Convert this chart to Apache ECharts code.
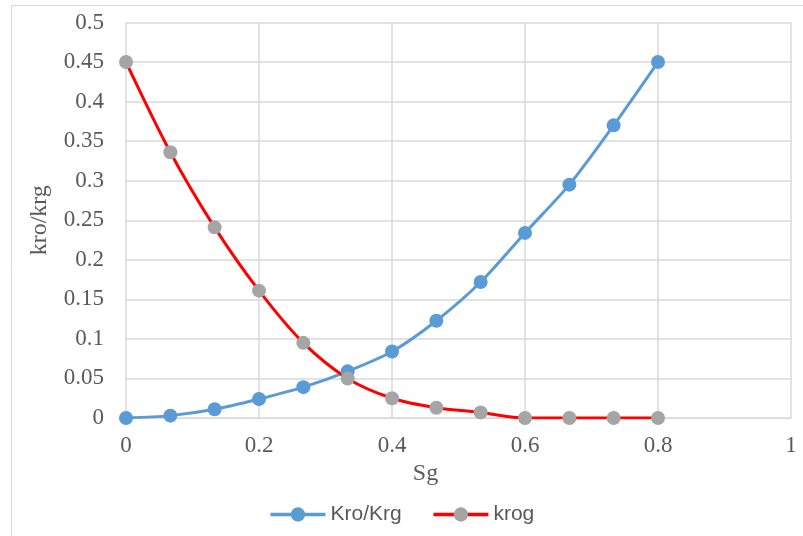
<!DOCTYPE html>
<html><head><meta charset="utf-8">
<script src="https://cdn.jsdelivr.net/npm/echarts@6/dist/echarts.min.js"></script>
<style>html,body{margin:0;padding:0;background:#fff}#c{width:803px;height:536px}</style>
</head><body><div id="c"></div>
<script>
var sg = [0, 0.0667, 0.1333, 0.2, 0.2667, 0.3333, 0.4, 0.4667, 0.5333, 0.6, 0.6667, 0.7333, 0.8];
var kroKrg = [0, 0.003, 0.011, 0.024, 0.039, 0.059, 0.084, 0.123, 0.172, 0.234, 0.295, 0.37, 0.45];
var krog = [0.45, 0.336, 0.241, 0.161, 0.095, 0.05, 0.025, 0.013, 0.007, 0, 0, 0, 0];
var seriesNames = ['Kro/Krg', 'krog'];
var xTitle = 'Sg', yTitle = 'kro/krg';

function pairs(xs, ys){ return xs.map(function(x,i){ return [x, ys[i]]; }); }

var chart = echarts.init(document.getElementById('c'));
var serif = '"Liberation Serif", "Times New Roman", serif';
chart.setOption({
  animation: false,
  grid: { left: 126, right: 12, top: 22.5, bottom: 118, containLabel: false },
  graphic: [
    { type: 'line', shape: { x1: 11, y1: 5.5, x2: 803, y2: 5.5 }, style: { stroke: '#D9D9D9', lineWidth: 1 } },
    { type: 'line', shape: { x1: 11.5, y1: 5, x2: 11.5, y2: 536 }, style: { stroke: '#D9D9D9', lineWidth: 1 } }
  ],
  legend: {
    bottom: 6, left: 'center',
    itemWidth: 55, itemHeight: 18, itemGap: 30,
    lineStyle: { width: 3.5 },
    textStyle: { fontFamily: '"Liberation Sans", Arial, sans-serif', fontSize: 21, color: '#595959' },
    data: seriesNames
  },
  xAxis: {
    type: 'value', min: 0, max: 1, interval: 0.2,
    name: xTitle, nameLocation: 'middle', nameGap: 28,
    nameTextStyle: { fontFamily: serif, fontSize: 24, color: '#595959', padding: [0, 66, 0, 0] },
    axisLine: { show: true, lineStyle: { color: '#D9D9D9', width: 1 } },
    axisTick: { show: false },
    axisLabel: { fontFamily: serif, fontSize: 23, color: '#595959', margin: 16 },
    splitLine: { show: true, lineStyle: { color: '#D9D9D9', width: 1.5 } }
  },
  yAxis: {
    type: 'value', min: 0, max: 0.5, interval: 0.05,
    name: yTitle, nameLocation: 'middle', nameGap: 74, nameRotate: 90,
    nameTextStyle: { fontFamily: serif, fontSize: 24, color: '#595959' },
    axisLine: { show: false },
    axisTick: { show: false },
    axisLabel: { fontFamily: serif, fontSize: 23, color: '#595959', margin: 22 },
    splitLine: { show: true, lineStyle: { color: '#D9D9D9', width: 1.5 } }
  },
  series: [
    { name: seriesNames[0], type: 'line', data: pairs(sg, kroKrg), smooth: 0.3,
      symbol: 'circle', symbolSize: 14,
      lineStyle: { color: '#5B9BD5', width: 3 }, itemStyle: { color: '#5B9BD5' } },
    { name: seriesNames[1], type: 'line', data: pairs(sg, krog), smooth: 0.3,
      symbol: 'circle', symbolSize: 14,
      lineStyle: { color: '#FF0000', width: 3 }, itemStyle: { color: '#A5A5A5' } }
  ]
});
</script></body></html>
